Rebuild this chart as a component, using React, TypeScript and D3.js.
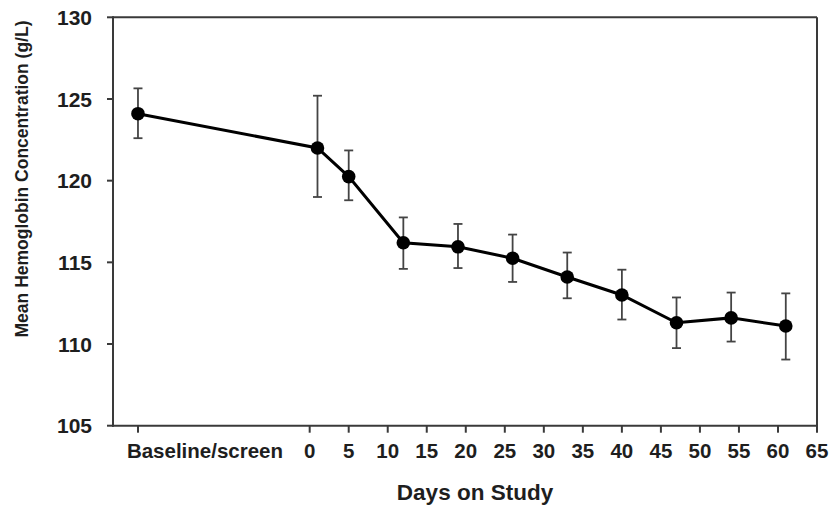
import React from "react";
import * as d3 from "d3";

const dayTicks = [0, 5, 10, 15, 20, 25, 30, 35, 40, 45, 50, 55, 60, 65];
const yTicks = [105, 110, 115, 120, 125, 130];
const baselineLabel = "Baseline/screen";
const baselinePos = -22;
const xDomain = [-25.2, 65];
const yDomain = [105, 130];

const days = [baselinePos, 1, 5, 12, 19, 26, 33, 40, 47, 54, 61];
const means = [124.1, 122.0, 120.25, 116.2, 115.95, 115.25, 114.1, 113.0, 111.3, 111.6, 111.1];
const upper = [125.65, 125.2, 121.85, 117.75, 117.35, 116.7, 115.6, 114.55, 112.85, 113.15, 113.1];
const lower = [122.6, 119.0, 118.8, 114.6, 114.65, 113.8, 112.8, 111.5, 109.75, 110.15, 109.05];

const W = 829;
const H = 510;
const left = 113;
const right = 817;
const top = 17.3;
const bottom = 425.7;

export default function App() {
  const x = d3.scaleLinear().domain(xDomain).range([left, right]);
  const y = d3.scaleLinear().domain(yDomain).range([bottom, top]);
  const pts = days.map((d, i) => ({ d, m: means[i], u: upper[i], l: lower[i] }));
  const line = d3
    .line<{ d: number; m: number }>()
    .x((p) => x(p.d))
    .y((p) => y(p.m));
  const axisColor = "#3a3a3a";
  const font = "Arial, 'Liberation Sans', sans-serif";
  const xTickAll = [
    { v: baselinePos, label: baselineLabel, off: 67 },
    ...dayTicks.map((v) => ({ v, label: String(v), off: 0 })),
  ];
  return (
    <svg
      width={W}
      height={H}
      style={{ position: "absolute", left: 0, top: 0, background: "#fff" }}
      fontFamily={font}
    >
      <rect x={0} y={0} width={W} height={H} fill="#fff" />
      <line x1={left} x2={right} y1={top} y2={top} stroke={axisColor} strokeWidth={2} />
      <line x1={right} x2={right} y1={top} y2={bottom} stroke={axisColor} strokeWidth={2} />
      <line x1={left} x2={left} y1={top - 1} y2={bottom + 1} stroke={axisColor} strokeWidth={2} />
      <line x1={left - 1} x2={right + 1} y1={bottom} y2={bottom} stroke={axisColor} strokeWidth={2} />
      {yTicks.map((t) => (
        <g key={"y" + t}>
          <line x1={left - 6} x2={left} y1={y(t)} y2={y(t)} stroke={axisColor} strokeWidth={2} />
          <text
            x={left - 21}
            y={y(t)}
            dy="0.36em"
            textAnchor="end"
            fontSize={21}
            fontWeight="bold"
            fill="#1e1e1e"
          >
            {t}
          </text>
        </g>
      ))}
      {xTickAll.map((t) => (
        <g key={"x" + t.label}>
          <line x1={x(t.v)} x2={x(t.v)} y1={bottom} y2={bottom + 7} stroke={axisColor} strokeWidth={2} />
          <text
            x={x(t.v) + t.off}
            y={bottom + 32.5}
            textAnchor="middle"
            fontSize={20.5}
            fontWeight="bold"
            fill="#1e1e1e"
          >
            {t.label}
          </text>
        </g>
      ))}
      {pts.map((p, i) => (
        <g key={"e" + i} stroke="#444" strokeWidth={1.8}>
          <line x1={x(p.d)} x2={x(p.d)} y1={y(p.u)} y2={y(p.l)} />
          <line x1={x(p.d) - 4.5} x2={x(p.d) + 4.5} y1={y(p.u)} y2={y(p.u)} />
          <line x1={x(p.d) - 4.5} x2={x(p.d) + 4.5} y1={y(p.l)} y2={y(p.l)} />
        </g>
      ))}
      <path d={line(pts) || ""} fill="none" stroke="#000" strokeWidth={3} />
      {pts.map((p, i) => (
        <circle key={"c" + i} cx={x(p.d)} cy={y(p.m)} r={6.8} fill="#000" />
      ))}
      <text
        x={475}
        y={500}
        textAnchor="middle"
        fontSize={22.5}
        fontWeight="bold"
        fill="#1e1e1e"
      >
        Days on Study
      </text>
      <text
        transform={`translate(28,${(20 + 338) / 2}) rotate(-90)`}
        textAnchor="middle"
        fontSize={17.5}
        fontWeight="bold"
        fill="#1e1e1e"
      >
        Mean Hemoglobin Concentration (g/L)
      </text>
    </svg>
  );
}
